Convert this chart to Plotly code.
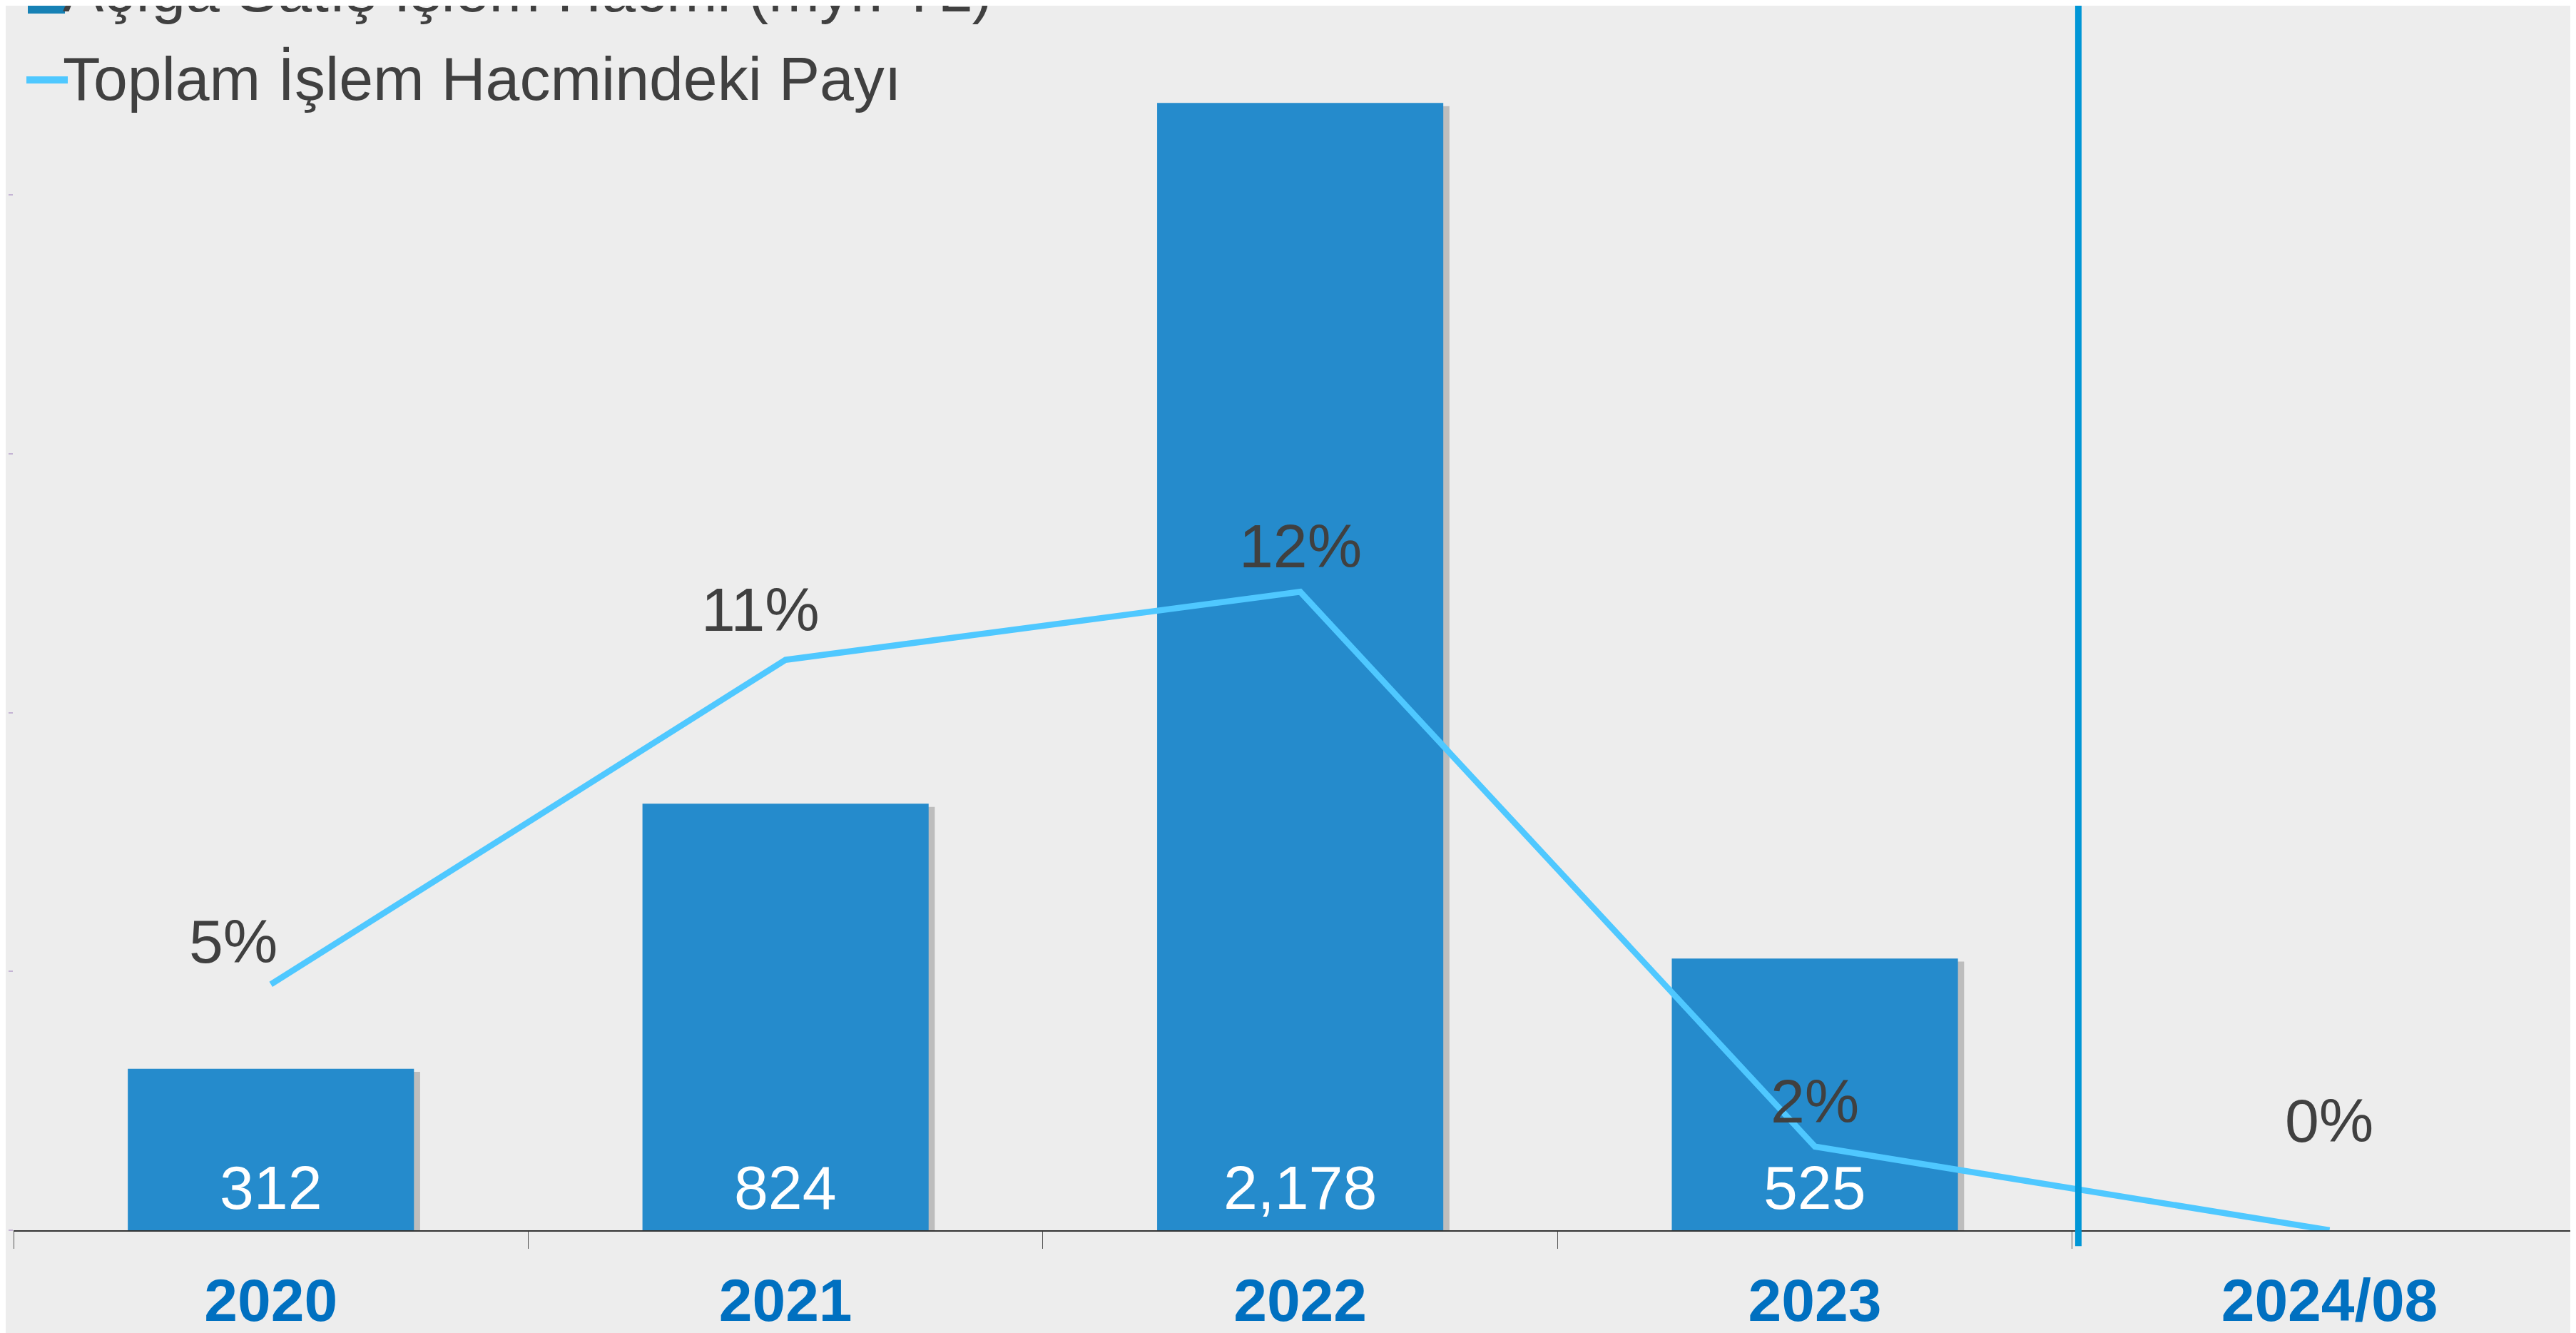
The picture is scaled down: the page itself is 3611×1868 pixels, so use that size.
import plotly.graph_objects as go

years = ["2020", "2021", "2022", "2023", "2024/08"]
volume = [312, 824, 2178, 525, None]          # Açığa satış işlem hacmi (myr. TL)
share_pct = [4.7, 10.9, 12.2, 1.6, 0.0]       # toplam işlem hacmindeki payı (%)

bar_name = "Açığa Satış İşlem Hacmi (myr. TL)"
line_name = "Toplam İşlem Hacmindeki Payı"

FONT = "Liberation Sans, Arial, sans-serif"
BAR_BLUE = "#258BCC"
LINE_BLUE = "#4FC8FF"
TEXT_GREY = "#404040"

fig = go.Figure()

# soft shadow behind the bars
fig.add_trace(
    go.Bar(
        x=years,
        y=volume,
        base=-6,
        width=0.556,
        offset=-0.266,
        marker=dict(color="rgba(0,0,0,0.2)", line_width=0),
        cliponaxis=False,
        hoverinfo="skip",
        showlegend=False,
    )
)

fig.add_trace(
    go.Bar(
        x=years,
        y=volume,
        name=bar_name,
        width=0.556,
        offset=-0.278,
        marker=dict(color=BAR_BLUE, line_width=0),
        showlegend=False,
    )
)

fig.add_trace(
    go.Scatter(
        x=years,
        y=share_pct,
        name=line_name,
        mode="lines",
        line=dict(color=LINE_BLUE, width=8.5),
        yaxis="y2",
        cliponaxis=False,
        showlegend=False,
    )
)

# value labels at the foot of each bar
for i, v in enumerate(volume):
    if v is None:
        continue
    fig.add_annotation(
        x=i,
        y=0,
        text=f"{v:,}",
        showarrow=False,
        xanchor="center",
        yanchor="middle",
        yshift=60,
        font=dict(size=86, color="white", family=FONT),
    )

# percentage labels above the line points
label_shift = [(-53, 60), (-35, 71), (0, 64), (0, 64), (0, 154)]
for i, (v, (dx, dy)) in enumerate(zip(share_pct, label_shift)):
    fig.add_annotation(
        x=i,
        y=v,
        yref="y2",
        text=f"{v:.0f}%",
        showarrow=False,
        xanchor="center",
        yanchor="middle",
        xshift=dx,
        yshift=dy,
        font=dict(size=86, color=TEXT_GREY, family=FONT),
    )

# hand-made legend in the top-left corner (first row is cut by the page edge)
legend_rows = [(bar_name, 22), (line_name, -102)]
for txt, ys in legend_rows:
    fig.add_annotation(
        x=0,
        y=1,
        xref="paper",
        yref="paper",
        text=txt,
        showarrow=False,
        xanchor="left",
        yanchor="middle",
        xshift=67,
        yshift=ys,
        font=dict(size=86, color=TEXT_GREY, family=FONT),
    )

fig.add_shape(
    type="rect",
    xref="paper",
    yref="paper",
    xsizemode="pixel",
    ysizemode="pixel",
    xanchor=0,
    yanchor=1,
    x0=20,
    x1=72,
    y0=-11,
    y1=42,
    fillcolor="#1681B5",
    line_width=0,
    layer="above",
)
fig.add_shape(
    type="line",
    xref="paper",
    yref="paper",
    xsizemode="pixel",
    ysizemode="pixel",
    xanchor=0,
    yanchor=1,
    x0=18,
    x1=76,
    y0=-104,
    y1=-104,
    line=dict(color=LINE_BLUE, width=10),
    layer="above",
)

# divider between full years and the partial year
fig.add_shape(
    type="line",
    xref="x",
    yref="paper",
    x0=3.512,
    x1=3.512,
    y0=-0.013,
    y1=1.0,
    line=dict(color="#0096D6", width=9),
    layer="above",
)

fig.update_layout(
    width=3611,
    height=1868,
    barmode="overlay",
    paper_bgcolor="#ededed",
    plot_bgcolor="rgba(0,0,0,0)",
    margin=dict(l=11, r=0, t=0, b=152, autoexpand=False),
    showlegend=False,
    font=dict(family=FONT, color=TEXT_GREY),
    xaxis=dict(
        type="category",
        range=[-0.5, 4.49],
        showgrid=False,
        zeroline=False,
        showline=True,
        linecolor="#333333",
        linewidth=1.5,
        ticks="outside",
        tickson="boundaries",
        ticklen=24,
        tickwidth=1,
        tickcolor="#555555",
        ticklabelstandoff=24,
        tickfont=dict(size=84, color="#0070C0", family=FONT, weight="bold"),
    ),
    yaxis=dict(
        range=[0, 2366],
        dtick=500,
        showgrid=False,
        zeroline=False,
        showline=False,
        showticklabels=False,
        ticks="outside",
        ticklen=6,
        tickwidth=2,
        tickcolor="#c4b4d4",
    ),
    yaxis2=dict(
        range=[0, 23.4],
        overlaying="y",
        side="right",
        showgrid=False,
        zeroline=False,
        showline=False,
        showticklabels=False,
    ),
)

fig.write_html("out.html")
